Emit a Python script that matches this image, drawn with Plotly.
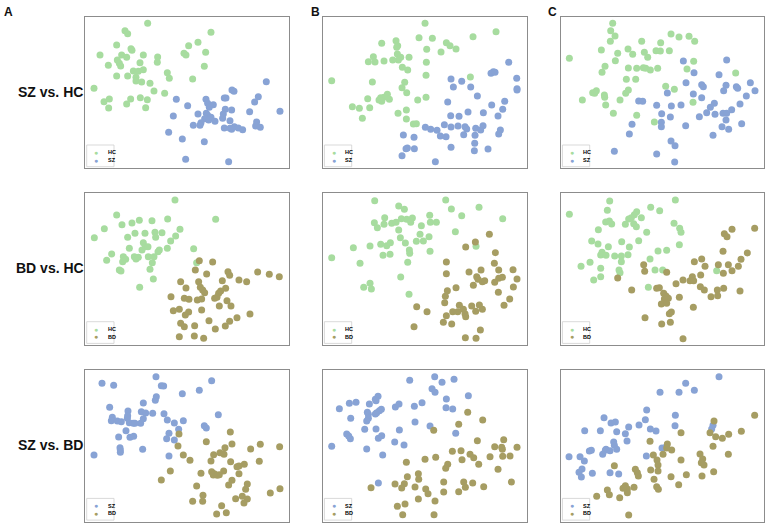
import plotly.graph_objects as go

# ---------------- data (embedding coordinates) ----------------
A1_HC = [(203,70),(135,92),(143,101),(393,97),(110,135),(153,146),(156,151),(354,127),(326,137),(60,165),
         (125,165),(140,172),(190,165),(312,160),(318,165),(377,157),(233,171),(232,187),(112,180),(85,196),
         (118,190),(122,198),(180,188),(373,199),(160,213),(175,214),(190,209),(262,218),(268,235),(110,228),
         (143,228),(168,232),(168,243),(185,246),(210,250),(338,237),(42,265),(222,273),(254,280),(72,305),
         (88,297),(152,297),(181,293),(202,299),(140,312),(86,324),(197,323)]
A1_SZ = [(559,245),(456,270),(462,274),(289,298),(378,298),(433,294),(438,294),(535,290),(524,306),(383,310),
         (400,314),(323,317),(388,322),(436,328),(455,330),(509,335),(600,334),(354,342),(379,340),(383,346),
         (430,342),(280,348),(393,352),(374,356),(428,355),(386,360),(405,364),(450,362),(530,366),(363,368),
         (360,376),(340,376),(433,384),(450,385),(463,380),(475,384),(488,389),(527,378),(541,382),(455,388),
         (266,397),(307,417),(373,425),(317,478),(446,485)]

B1_HC = [(345,70),(558,95),(489,110),(327,113),(367,115),(215,130),(258,122),(263,137),(409,128),(420,137),
         (438,147),(350,148),(260,142),(393,156),(262,162),(190,170),(272,172),(297,172),(175,185),(195,186),
         (222,183),(248,180),(265,180),(349,187),(277,202),(293,210),(348,226),(481,231),(65,242),(187,246),
         (284,247),(276,263),(290,278),(232,283),(222,292),(173,296),(212,293),(207,300),(238,298),(215,304),
         (323,300),(348,292),(127,320),(148,325),(179,323),(289,330),(264,340),(157,355),(289,357),(310,372),
         (319,371)]
B1_SZ = [(596,187),(550,215),(543,220),(555,217),(423,237),(455,244),(620,235),(430,261),(482,261),(621,266),
         (621,270),(502,288),(413,306),(584,304),(545,315),(578,328),(474,336),(520,338),(422,347),(564,348),
         (447,349),(346,382),(362,388),(381,391),(403,374),(423,381),(444,378),(465,380),(470,387),(497,385),
         (519,377),(512,390),(571,390),(566,402),(391,408),(408,410),(461,404),(495,406),(280,405),(312,412),
         (292,444),(288,446),(313,446),(423,442),(494,430),(493,452),(534,447),(276,467),(376,485)]

C1_HC = [(218,70),(212,92),(225,108),(211,124),(393,102),(417,111),(447,109),(464,124),(305,124),(362,128),
         (184,150),(264,147),(348,152),(361,153),(388,152),(313,157),(233,160),(278,163),(323,172),(88,175),
         (226,182),(461,184),(195,199),(265,204),(290,205),(310,203),(317,205),(331,210),(353,205),(441,207),
         (186,217),(587,219),(259,238),(287,238),(377,259),(403,268),(265,270),(257,280),(169,272),(158,278),
         (164,280),(193,285),(194,292),(127,300),(240,300),(459,307),(197,315),(220,340),(290,346),(343,366)]
C1_SZ = [(560,180),(430,183),(462,218),(537,224),(438,248),(485,254),(490,260),(558,256),(631,248),(551,272),
         (589,260),(593,265),(645,272),(382,279),(460,282),(485,293),(619,288),(296,303),(308,304),(523,310),
         (350,316),(394,318),(423,315),(600,312),(511,322),(575,329),(365,341),(500,338),(525,343),(549,340),
         (560,340),(391,351),(478,350),(558,360),(364,367),(364,380),(276,373),(437,377),(546,380),(605,371),
         (566,388),(268,402),(519,406),(393,423),(405,437),(223,454),(350,462),(404,486)]

A2_HC = [(285,60),(407,118),(110,105),(43,173),(73,146),(126,134),(156,129),(178,121),(216,122),(263,117),
         (143,172),(165,160),(195,160),(225,157),(246,158),(300,148),(227,172),(287,168),(272,183),(190,188),
         (148,205),(196,200),(186,210),(204,200),(238,210),(234,215),(262,205),(341,206),(95,222),(80,241),
         (130,230),(137,238),(128,245),(163,230),(175,232),(168,237),(205,230),(222,230),(217,248),(210,268),
         (118,270),(123,273),(220,297),(179,322),(350,248)]
A2_BD = [(358,242),(398,246),(346,270),(380,282),(444,275),(449,286),(533,276),(568,283),(598,290),(302,305),
         (356,305),(427,302),(477,300),(500,305),(318,324),(361,322),(368,330),(374,338),(437,325),(422,333),
         (416,340),(273,350),(313,355),(327,358),(352,360),(365,357),(404,355),(411,352),(441,362),(418,378),
         (453,378),(280,392),(298,388),(326,396),(316,405),(365,390),(510,402),(471,413),(302,430),(313,440),
         (344,437),(387,422),(449,424),(436,438),(406,447),(298,470),(343,468),(371,475)]

B2_HC = [(194,62),(407,60),(266,78),(283,88),(424,87),(507,82),(455,107),(578,116),(359,106),(224,113),
         (193,128),(202,143),(222,133),(245,130),(258,127),(274,116),(290,118),(307,114),(302,127),(361,127),
         (379,127),(334,137),(266,150),(436,155),(330,163),(357,170),(271,173),(130,203),(180,198),(212,193),
         (230,197),(241,188),(286,189),(319,184),(340,183),(298,210),(299,220),(360,214),(219,226),(240,223),
         (65,233),(150,250),(293,247),(498,199),(272,291),(161,322),(180,310),(184,327),(297,343)]
B2_BD = [(538,163),(496,186),(467,201),(556,218),(409,246),(553,250),(566,270),(609,269),(513,270),(477,276),
         (409,281),(500,290),(504,298),(517,305),(524,302),(566,295),(577,292),(621,297),(554,307),(490,316),
         (438,323),(610,321),(412,332),(565,337),(406,349),(404,368),(599,357),(582,376),(320,380),(351,395),
         (485,378),(508,375),(517,388),(497,394),(448,376),(460,388),(443,395),(428,395),(465,401),(409,407),
         (467,410),(400,427),(425,432),(312,440),(511,450),(466,473),(498,475)]

C2_HC = [(209,63),(406,60),(88,103),(202,91),(332,82),(359,92),(290,95),(283,104),(274,113),(266,117),
         (304,113),(197,126),(208,123),(215,132),(256,133),(289,140),(281,131),(402,130),(419,145),(423,157),
         (175,149),(320,157),(155,183),(174,192),(245,185),(296,182),(418,194),(205,200),(268,201),(354,213),
         (380,211),(186,217),(182,225),(198,226),(224,228),(244,228),(264,224),(244,245),(330,237),(150,247),
         (123,259),(182,265),(237,270),(240,278),(345,270),(368,270),(530,272),(182,290),(161,300),(325,322)]
C2_BD = [(644,145),(576,148),(553,161),(561,170),(549,214),(622,219),(463,245),(485,237),(603,238),(311,254),
         (495,259),(535,254),(565,254),(595,259),(314,274),(380,277),(550,280),(576,272),(482,285),(457,290),
         (233,294),(429,300),(450,302),(461,302),(408,311),(481,320),(493,330),(532,330),(551,325),(600,333),
         (275,330),(350,325),(358,323),(371,340),(378,348),(385,355),(373,357),(418,352),(513,350),(533,347),
         (364,372),(380,370),(460,382),(394,396),(388,401),(315,413),(391,427),(365,432),(429,476)]

A3_SZ = [(228,50),(66,70),(101,76),(244,77),(251,78),(395,62),(358,91),(307,101),(229,110),(226,121),
         (190,129),(89,142),(144,153),(184,155),(197,159),(218,160),(252,161),(415,164),(97,172),(143,167),
         (142,175),(190,176),(262,180),(94,182),(112,183),(124,185),(148,188),(160,190),(165,190),(182,190),
         (283,189),(310,182),(373,197),(379,204),(138,212),(296,208),(267,220),(150,232),(161,229),(116,231),
         (260,236),(283,240),(120,263),(121,270),(121,277),(188,268),(42,285),(267,288)]
A3_BD = [(451,216),(297,222),(379,245),(456,252),(294,258),(435,263),(541,253),(599,260),(512,267),(420,278),
         (432,283),(401,284),(310,285),(330,301),(393,303),(452,305),(538,304),(493,313),(477,318),(471,320),
         (271,333),(431,333),(363,340),(395,335),(403,341),(400,345),(412,346),(418,344),(477,341),(244,360),
         (456,361),(502,372),(350,378),(446,375),(497,388),(571,399),(600,386),(369,406),(487,409),(502,417),
         (467,416),(338,424),(368,424),(492,429),(425,437),(439,458),(410,462)]

B3_SZ = [(374,50),(299,61),(396,67),(432,58),(366,86),(375,97),(475,107),(204,109),(196,118),(198,122),
         (118,130),(138,127),(178,132),(409,117),(88,146),(256,141),(267,132),(313,139),(336,128),(408,143),
         (428,147),(172,157),(175,163),(200,158),(208,152),(214,148),(196,162),(122,175),(175,175),(170,183),
         (315,186),(360,198),(164,208),(198,207),(268,210),(437,220),(110,222),(116,228),(121,236),(205,235),
         (215,227),(254,246),(282,255),(65,259),(170,267),(218,285),(205,369)]
B3_BD = [(473,157),(518,180),(446,193),(371,211),(502,242),(581,239),(554,260),(575,262),(577,268),(621,262),
         (427,274),(453,272),(480,283),(491,293),(456,299),(540,290),(578,289),(600,288),(377,292),(345,298),
         (289,307),(506,313),(413,313),(407,325),(564,328),(325,341),(292,350),(326,358),(401,366),(461,366),
         (488,369),(604,366),(255,372),(283,371),(315,381),(275,384),(183,383),(347,387),(466,382),(521,380),
         (354,401),(401,396),(446,395),(325,417),(375,423),(285,432),(262,439),(278,464),(372,464)]

C3_SZ = [(537,50),(437,70),(360,97),(417,97),(463,91),(320,150),(406,166),(192,173),(213,189),(226,186),
         (316,179),(266,201),(297,195),(405,197),(134,212),(181,212),(230,215),(256,221),(331,207),(348,213),
         (519,196),(515,207),(261,243),(221,246),(223,256),(198,268),(196,271),(210,272),(230,268),(148,273),
         (154,271),(366,264),(378,261),(188,283),(87,290),(120,290),(133,303),(319,288),(126,327),(117,337),
         (124,351),(157,340),(210,338),(236,342)]
C3_BD = [(644,166),(522,183),(423,218),(510,218),(527,230),(547,235),(566,223),(604,214),(330,244),(382,252),
         (519,259),(395,270),(380,264),(369,283),(340,285),(480,282),(565,283),(351,300),(423,300),(488,297),
         (484,308),(492,315),(223,317),(354,315),(286,328),(332,330),(292,338),(295,348),(354,333),(393,350),
         (439,344),(486,348),(521,335),(342,358),(416,374),(350,380),(355,388),(256,377),(262,387),(249,385),
         (282,382),(202,390),(208,404),(262,398),(170,409),(239,413),(266,465)]

ROW_LABELS = ["SZ vs. HC", "BD vs. HC", "SZ vs. BD"]
COL_LABELS = ["A", "B", "C"]
GROUPS = [("HC", "SZ"), ("HC", "BD"), ("SZ", "BD")]
PANELS = [[(A1_HC, A1_SZ), (B1_HC, B1_SZ), (C1_HC, C1_SZ)],
          [(A2_HC, A2_BD), (B2_HC, B2_BD), (C2_HC, C2_BD)],
          [(A3_SZ, A3_BD), (B3_SZ, B3_BD), (C3_SZ, C3_BD)]]

# ---------------- styling / layout ----------------
W, H = 767, 525
COLORS = {"HC": "#a7dc9f", "SZ": "#88a3d5", "BD": "#a69d63"}
COL_PX = [(85, 289.3), (322.7, 526.7), (560.7, 764)]
ROW_PX = [(17.3, 168.3), (193.3, 345), (370, 521.7)]
XR = [(15, 628), (38, 650), (62, 672)]
YR = [(505, 52), (495, 40), (485, 30)]


def px(xp):
    return xp / W


def py(yp):
    return 1 - yp / H


fig = go.Figure()
layout = dict(width=W, height=H, margin=dict(l=0, r=0, t=0, b=0),
              plot_bgcolor="white", paper_bgcolor="white", showlegend=False,
              font=dict(family="Liberation Sans, Arial, sans-serif"))
annotations = []
shapes = []
k = 0
for r in range(3):
    for c in range(3):
        k += 1
        ax = "" if k == 1 else str(k)
        x0, x1 = COL_PX[c]
        y0, y1 = ROW_PX[r]
        axis_style = dict(showticklabels=False, ticks="", showgrid=False, zeroline=False,
                          showline=True, mirror=True, linecolor="#8c8c8c", linewidth=1)
        layout[f"xaxis{ax}"] = dict(domain=[px(x0), px(x1)], range=list(XR[c]),
                                    anchor=f"y{ax}", **axis_style)
        layout[f"yaxis{ax}"] = dict(domain=[py(y1), py(y0)], range=list(YR[r]),
                                    anchor=f"x{ax}", **axis_style)
        for name, pts in zip(GROUPS[r], PANELS[r][c]):
            fig.add_trace(go.Scatter(
                x=[p[0] for p in pts], y=[p[1] for p in pts], mode="markers",
                xaxis=f"x{ax}", yaxis=f"y{ax}", name=name,
                marker=dict(size=7, color=COLORS[name], line=dict(width=0))))
        # small legend box in the lower-left corner of each panel
        shapes.append(dict(type="rect", xref="paper", yref="paper",
                           x0=px(x0 + 1.7), x1=px(x0 + 29), y0=py(y1 - 1.6), y1=py(y1 - 23.3),
                           line=dict(color="#cfcfcf", width=0.8), fillcolor="white"))
        for i, name in enumerate(GROUPS[r]):
            yy = y1 - 16 + 7.7 * i
            annotations.append(dict(text="●", x=px(x0 + 11.3), y=py(yy), xref="paper", yref="paper",
                                    xanchor="center", yanchor="middle", showarrow=False,
                                    font=dict(size=7, color=COLORS[name])))
            annotations.append(dict(text=f"<b>{name}</b>", x=px(x0 + 20.5), y=py(yy), xref="paper",
                                    yref="paper", xanchor="left", yanchor="middle", showarrow=False,
                                    font=dict(size=5.5, color="#000000")))

for r, lab in enumerate(ROW_LABELS):
    yc = (ROW_PX[r][0] + ROW_PX[r][1]) / 2
    annotations.append(dict(text=f"<b>{lab}</b>", x=px(50), y=py(yc - 1), xref="paper", yref="paper",
                            xanchor="center", yanchor="middle", showarrow=False,
                            font=dict(size=14, color="#111")))
for c, lab in enumerate(COL_LABELS):
    xl = [2, 309, 546][c]
    annotations.append(dict(text=f"<b>{lab}</b>", x=px(xl), y=py(3), xref="paper", yref="paper",
                            xanchor="left", yanchor="top", showarrow=False,
                            font=dict(size=12, color="#111")))
layout["annotations"] = annotations
layout["shapes"] = shapes
fig.update_layout(**layout)
fig.write_html("out.html", config={"displayModeBar": False},
               post_script="document.body.style.margin='0';document.body.style.overflow='hidden';")
